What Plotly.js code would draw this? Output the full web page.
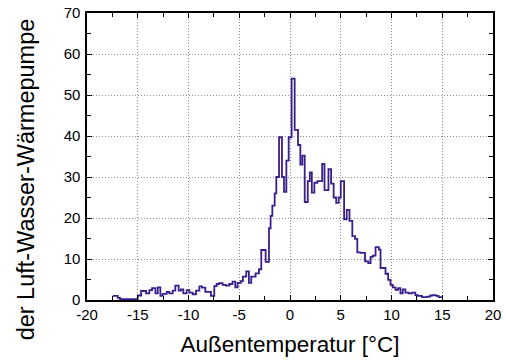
<!DOCTYPE html>
<html>
<head>
<meta charset="utf-8">
<script src="https://cdn.plot.ly/plotly-3.0.1.min.js"></script>
<style>html,body{margin:0;padding:0;background:#fff;}#chart{width:506px;height:362px;}</style>
</head>
<body>
<div id="chart"></div>
<script>
// Left edges of the histogram steps (°C) and their heights
const stepStart = [
  -17.46, -16.97, -16.74, -15.0, -14.67, -14.18, -13.85, -13.59, -13.26, -13.03,
  -12.77, -12.54, -12.15, -11.89, -11.56, -11.3, -10.97, -10.74, -10.51, -10.18,
  -9.92, -9.59, -9.26, -8.93, -8.67, -8.34, -7.79, -7.46, -7.23, -6.97,
  -6.64, -6.31, -5.98, -5.66, -5.39, -5.16, -4.84, -4.64, -4.31, -4.05,
  -3.82, -3.39, -3.06, -2.83, -2.40, -2.07, -1.91, -1.74, -1.51, -1.35,
  -1.08, -0.79, -0.59, -0.36, -0.13, 0.16, 0.46, 0.79, 1.02, 1.22,
  1.45, 1.75, 1.95, 2.15, 2.4, 2.7, 3.17, 3.4, 3.79, 4.05,
  4.3, 4.55, 4.8, 5.0, 5.33, 5.59, 5.86, 6.14, 6.41, 6.63,
  6.96, 7.39, 7.71, 7.94, 8.17, 8.43, 8.76, 8.92, 9.41, 9.67,
  9.9, 10.13, 10.39, 10.65, 10.88, 11.11, 11.37, 11.7, 12.03, 12.35,
  12.61, 13.0, 13.5, 13.82, 14.05, 14.38, 14.64
];
const stepValue = [
  1.0, 0.5, 0.2, 1.1, 2.2, 1.6, 2.4, 2.9, 1.6, 3.1,
  1.0, 1.5, 2.0, 1.6, 2.3, 3.5, 2.3, 2.6, 1.6, 2.4,
  1.8, 1.4, 2.3, 3.3, 3.0, 2.0, 1.0, 3.4, 3.9, 4.1,
  3.7, 3.5, 3.9, 4.5, 3.1, 4.2, 4.6, 5.7, 7.0, 4.2,
  5.7, 6.5, 7.5, 12.2, 9.3, 17.5, 20.5, 23.0, 26.0, 30.0,
  39.7, 30.0, 26.4, 34.0, 39.7, 54.0, 41.5, 37.8, 33.0, 35.2,
  23.9, 29.0, 31.1, 26.2, 28.6, 29.0, 33.2, 26.8, 31.9, 28.4,
  25.0, 23.7, 25.0, 29.0, 19.7, 22.0, 19.3, 15.6, 14.9, 11.6,
  11.5, 9.4, 9.0, 10.5, 10.8, 12.9, 12.3, 7.8, 6.4, 4.9,
  3.7, 3.1, 2.5, 2.9, 1.6, 2.6, 1.8, 1.6, 1.8, 1.2,
  1.0, 0.7, 0.8, 1.1, 1.2, 1.0, 0.7
];
const lastEdge = 15.0;

const xTickVals = [-20, -15, -10, -5, 0, 5, 10, 15, 20];
const yTickVals = [0, 10, 20, 30, 40, 50, 60, 70];
const xTitle = 'Außentemperatur [°C]';
const yTitle = 'der Luft-Wasser-Wärmepumpe';

const xs = stepStart.concat([lastEdge]);
const ys = stepValue.concat([stepValue[stepValue.length - 1]]);

const font = 'Liberation Sans, Arial, sans-serif';

const trace = {
  type: 'scatter', mode: 'lines', x: xs, y: ys,
  line: {shape: 'hv', color: 'rgb(58,30,140)', width: 1.8},
  hoverinfo: 'x+y'
};

const axisCommon = {
  showline: true, linecolor: '#000', linewidth: 1.6, mirror: 'ticks',
  ticks: 'inside', ticklen: 5, tickwidth: 1, tickcolor: '#000',
  showgrid: true, gridcolor: '#8c8c8c', griddash: '1px,2px', gridwidth: 1,
  zeroline: false, tickfont: {family: font, size: 15, color: '#000'},
  fixedrange: true
};

const layout = {
  width: 506, height: 362,
  margin: {l: 87, r: 13, t: 13, b: 62},
  paper_bgcolor: '#fff', plot_bgcolor: '#fff',
  showlegend: false,
  xaxis: Object.assign({}, axisCommon, {
    range: [-20, 20], tickmode: 'array', tickvals: xTickVals,
    ticktext: xTickVals.map(String),
    minor: {dtick: 2.5, tick0: 0, ticks: 'inside', ticklen: 4, tickcolor: '#000', showgrid: false},
    title: {text: xTitle, font: {family: font, size: 22.5, color: '#000'}, standoff: 14}
  }),
  yaxis: Object.assign({}, axisCommon, {
    range: [0, 70], tickmode: 'array', tickvals: yTickVals,
    ticktext: yTickVals.map(String),
    minor: {dtick: 5, tick0: 0, ticks: 'inside', ticklen: 4, tickcolor: '#000', showgrid: false},
    ticklabelstandoff: 2
  }),
  annotations: [{
    text: yTitle, textangle: -90, showarrow: false,
    xref: 'paper', yref: 'paper', x: -0.148, y: 0.42,
    xanchor: 'center', yanchor: 'middle',
    font: {family: font, size: 23.5, color: '#000'}
  }]
};

Plotly.newPlot('chart', [trace], layout, {displayModeBar: false, staticPlot: true});
</script>
</body>
</html>
